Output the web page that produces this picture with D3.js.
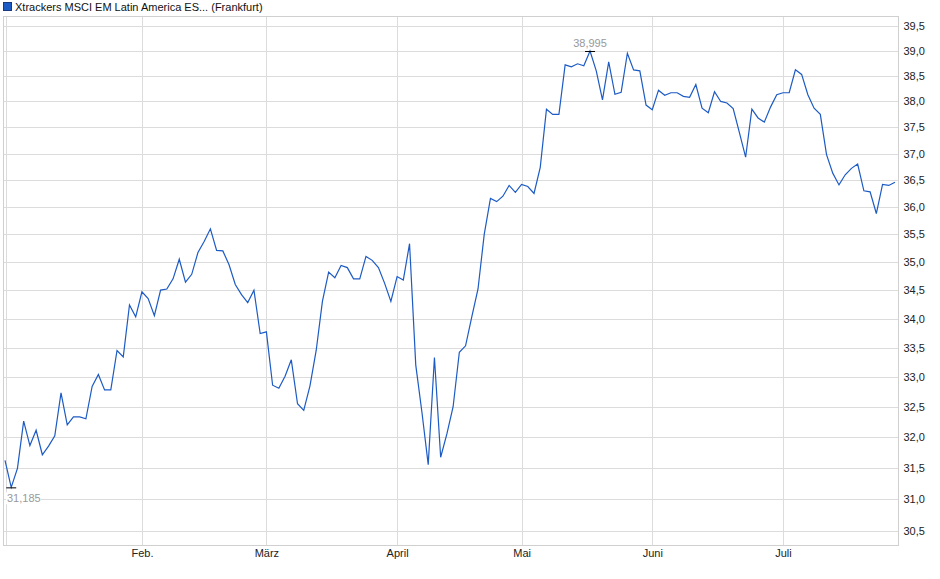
<!DOCTYPE html>
<html>
<head>
<meta charset="utf-8">
<script src="https://cdn.jsdelivr.net/npm/d3@7"></script>
<style>
  body { margin: 0; background: #fff; }
  text { font-family: "Liberation Sans", Arial, sans-serif; }
</style>
</head>
<body>
<script>
// closing prices, one per trading day
let values = [
  31.62, 31.185, 31.49, 32.26, 31.86, 32.11, 31.71, 31.85, 32.02, 32.73,
  32.20, 32.33, 32.33, 32.30, 32.84, 33.04, 32.78, 32.78, 33.45, 33.34,
  34.24, 34.03, 34.47, 34.35, 34.05, 34.50, 34.52, 34.70, 35.05, 34.64,
  34.78, 35.17, 35.37, 35.60, 35.21, 35.20, 34.95, 34.60, 34.42, 34.28,
  34.50, 33.74, 33.77, 32.86, 32.81, 33.01, 33.29, 32.55, 32.44, 32.85,
  33.45, 34.30, 34.82, 34.72, 34.94, 34.90, 34.70, 34.70, 35.10, 35.03,
  34.90, 34.62, 34.30, 34.74, 34.68, 35.33, 33.20, 32.40, 31.55, 33.33,
  31.67, 32.05, 32.50, 33.42, 33.53, 34.03, 34.52, 35.50, 36.16, 36.10,
  36.20, 36.40, 36.27, 36.42, 36.38, 36.25, 36.74, 37.85, 37.75, 37.75,
  38.72, 38.68, 38.74, 38.70, 38.995, 38.60, 38.03, 38.78, 38.14, 38.18,
  38.95, 38.62, 38.60, 37.93, 37.84, 38.22, 38.12, 38.17, 38.17, 38.10,
  38.08, 38.33, 37.87, 37.78, 38.19, 38.00, 37.97, 37.86, 37.40, 36.93,
  37.85, 37.68, 37.60, 37.89, 38.13, 38.17, 38.17, 38.62, 38.53, 38.13,
  37.87, 37.75, 36.98, 36.63, 36.41, 36.60, 36.72, 36.80, 36.30, 36.28,
  35.88, 36.42, 36.40, 36.46
];

// first trading day of each month (index into values)
let monthIdx = [22, 42, 63, 83, 104, 125];
let monthLabels = ["Feb.", "März", "April", "Mai", "Juni", "Juli"];

let yTicks = [30.5, 31, 31.5, 32, 32.5, 33, 33.5, 34, 34.5, 35, 35.5, 36, 36.5, 37, 37.5, 38, 38.5, 39, 39.5];

let seriesName = "Xtrackers MSCI EM Latin America ES... (Frankfurt)";

let width = 940, height = 579;
let plot = {left: 3.5, right: 898.5, top: 16.5, bottom: 545.5};

let svg = d3.select("body")
            .append("svg")
            .attr("width", width)
            .attr("height", height);

let xScale = d3.scaleLinear()
    .domain([0, values.length - 1])
    .range([5, 895]);

let yScale = d3.scaleLog()
    .domain([30.27, 39.69])
    .range([plot.bottom, plot.top]);

let fmt = d => d3.format(".1f")(d).replace(".", ",");

// grid
let grid = svg.append("g").attr("stroke", "#dcdcdc").attr("stroke-width", 1);

grid.selectAll(".hgrid")
    .data(yTicks)
    .enter()
    .append("line")
        .attr("x1", plot.left)
        .attr("x2", plot.right)
        .attr("y1", d => Math.round(yScale(d)) + 0.5)
        .attr("y2", d => Math.round(yScale(d)) + 0.5);

grid.selectAll(".vgrid")
    .data(monthIdx)
    .enter()
    .append("line")
        .attr("x1", d => Math.round(xScale(d)) + 0.5)
        .attr("x2", d => Math.round(xScale(d)) + 0.5)
        .attr("y1", plot.top)
        .attr("y2", plot.bottom);

grid.append("line")
    .attr("x1", 6.5).attr("x2", 6.5)
    .attr("y1", plot.top).attr("y2", plot.bottom);

// frame
svg.append("rect")
    .attr("x", plot.left)
    .attr("y", plot.top)
    .attr("width", plot.right - plot.left)
    .attr("height", plot.bottom - plot.top)
    .attr("fill", "none")
    .attr("stroke", "#d0d0d0");

// axes
const yAxis = d3.axisRight(yScale)
    .tickValues(yTicks)
    .tickFormat(fmt)
    .tickSize(0)
    .tickPadding(5);

svg.append("g")
    .attr("transform", `translate(${plot.right}, 0)`)
    .call(yAxis)
    .call(g => g.select(".domain").remove())
    .selectAll("text")
        .attr("font-size", 11)
        .attr("font-family", "Liberation Sans, Arial, sans-serif")
        .attr("fill", "#222");

const xAxis = d3.axisBottom(xScale)
    .tickValues(monthIdx)
    .tickFormat((d, i) => monthLabels[i])
    .tickSize(0)
    .tickPadding(4);

svg.append("g")
    .attr("transform", `translate(0, ${plot.bottom})`)
    .call(xAxis)
    .call(g => g.select(".domain").remove())
    .selectAll("text")
        .attr("font-size", 11)
        .attr("font-family", "Liberation Sans, Arial, sans-serif")
        .attr("fill", "#222");

// price line
const line = d3.line()
    .x((d, i) => xScale(i))
    .y(d => yScale(d));

svg.append("path")
    .datum(values)
    .attr("fill", "none")
    .attr("stroke", "#1d5bc4")
    .attr("stroke-width", 1.2)
    .attr("stroke-linejoin", "miter")
    .attr("d", line);

// min / max markers
let minIdx = d3.minIndex(values), maxIdx = d3.maxIndex(values);
let fmt3 = d => d3.format(".3f")(d).replace(".", ",");

let mx = xScale(minIdx), my = yScale(values[minIdx]);
svg.append("line")
    .attr("x1", mx - 5).attr("x2", mx + 5)
    .attr("y1", my + 0.5).attr("y2", my + 0.5)
    .attr("stroke", "#000");
svg.append("rect")
    .attr("x", 6).attr("y", my + 5)
    .attr("width", 35).attr("height", 12)
    .attr("fill", "#fff");
svg.append("text")
    .attr("x", 7)
    .attr("y", my + 15)
    .attr("font-size", 11)
    .attr("fill", "#999")
    .text(fmt3(values[minIdx]));

let Mx = xScale(maxIdx), My = yScale(values[maxIdx]);
svg.append("line")
    .attr("x1", Mx - 5).attr("x2", Mx + 5)
    .attr("y1", My + 0.5).attr("y2", My + 0.5)
    .attr("stroke", "#000");
svg.append("text")
    .attr("x", Mx)
    .attr("y", My - 4)
    .attr("text-anchor", "middle")
    .attr("font-size", 11)
    .attr("fill", "#999")
    .text(fmt3(values[maxIdx]));

// legend
svg.append("rect")
    .attr("x", 3.5).attr("y", 2.5)
    .attr("width", 8).attr("height", 8)
    .attr("fill", "#1d5bc4")
    .attr("stroke", "#1a3a80");
svg.append("text")
    .attr("x", 15)
    .attr("y", 10.5)
    .attr("font-size", 11)
    .attr("fill", "#111")
    .text(seriesName);
</script>
</body>
</html>
